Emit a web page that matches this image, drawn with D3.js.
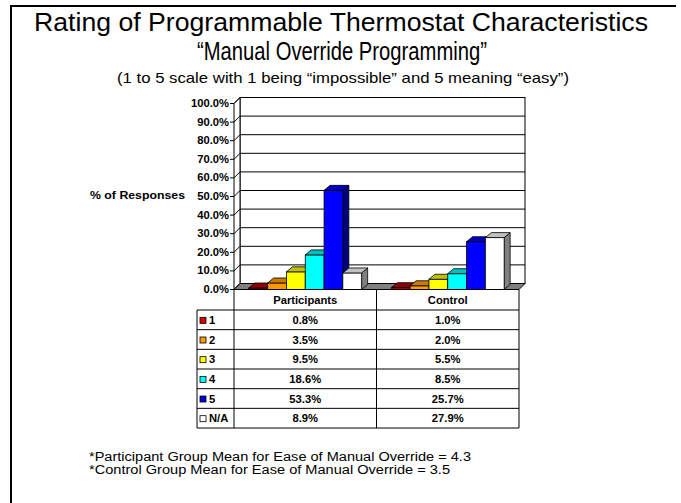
<!DOCTYPE html>
<html>
<head>
<meta charset="utf-8">
<script src="https://cdn.jsdelivr.net/npm/d3@7"></script>
<style>
  body { margin: 0; background: #fff; }
  text { font-family: "Liberation Sans", Arial, sans-serif; fill: #000; }
  .bold { font-weight: bold; }
</style>
</head>
<body>
<div id="chart"></div>
<script>
// Data
var categories = ["Participants", "Control"];
var seriesNames = ["1", "2", "3", "4", "5", "N/A"];
var participants = [0.8, 3.5, 9.5, 18.6, 53.3, 8.9];
var control = [1.0, 2.0, 5.5, 8.5, 25.7, 27.9];
var yTicks = [0, 10, 20, 30, 40, 50, 60, 70, 80, 90, 100];
var values = { Participants: participants, Control: control };

// front / top / side colours for each series
var frontColors = ["#c00000", "#ff9900", "#ffff00", "#00ffff", "#0000ff", "#ffffff"];
var topColors = ["#900000", "#cc7a00", "#c0c000", "#00c0c0", "#0000c0", "#c0c0c0"];
var sideColors = ["#600000", "#995c00", "#808000", "#008080", "#000080", "#808080"];
var legendColors = ["#dd0000", "#ff9900", "#ffff00", "#00ffff", "#0000dd", "#ffffff"];

var svgWidth = 681;
var svgHeight = 503;

// 3d depth of the plot
var DX = 6, DY = -6;
var BDX = 6, BDY = -5;

var svg = d3
  .select("#chart")
  .append("svg")
  .attr("width", svgWidth)
  .attr("height", svgHeight);

svg.append("rect")
  .attr("width", svgWidth)
  .attr("height", svgHeight)
  .attr("fill", "#fff");

// stretch a text to a given width
function fitWidth(sel, w) {
  sel.attr("textLength", w).attr("lengthAdjust", "spacingAndGlyphs");
}
function stretch(sel, k) {
  sel.each(function() {
    var len = this.getComputedTextLength();
    d3.select(this).attr("textLength", len * k).attr("lengthAdjust", "spacingAndGlyphs");
  });
}

// slide frame (top and left only)
svg.append("line")
  .attr("x1", 10).attr("x2", 676).attr("y1", 6).attr("y2", 6)
  .attr("stroke", "#000").attr("stroke-width", 2);
svg.append("line")
  .attr("x1", 11).attr("x2", 11).attr("y1", 5).attr("y2", 503)
  .attr("stroke", "#000").attr("stroke-width", 2);

// Titles
svg.append("text")
  .attr("x", 341).attr("y", 31)
  .attr("text-anchor", "middle")
  .style("font-size", "26px")
  .text("Rating of Programmable Thermostat Characteristics")
  .call(fitWidth, 614);

svg.append("text")
  .attr("x", 342).attr("y", 60)
  .attr("text-anchor", "middle")
  .style("font-size", "25px")
  .text("\u201cManual Override Programming\u201d")
  .call(fitWidth, 290);

svg.append("text")
  .attr("x", 343).attr("y", 83)
  .attr("text-anchor", "middle")
  .style("font-size", "15px")
  .text("(1 to 5 scale with 1 being \u201cimpossible\u201d and 5 meaning \u201ceasy\u201d)")
  .call(fitWidth, 452);

// Scales (front plane)
var xLeft = 234, xRight = 519;
var yScale = d3.scaleLinear().domain([0, 100]).range([289.5, 103.5]);
var x0 = d3.scaleBand().domain(categories).range([xLeft, xRight]);
var x1 = d3.scaleBand()
  .domain(seriesNames)
  .range([0, x0.bandwidth()])
  .paddingInner(0)
  .paddingOuter(0.79);

var chartGroup = svg.append("g");

// back wall
chartGroup.append("rect")
  .attr("x", xLeft + DX)
  .attr("y", yScale(100) + DY)
  .attr("width", xRight - xLeft)
  .attr("height", yScale(0) - yScale(100))
  .attr("fill", "#fff")
  .attr("stroke", "#000");

chartGroup.selectAll(".wallGrid")
  .data(yTicks)
  .enter()
  .append("line")
  .attr("x1", xLeft + DX)
  .attr("x2", xRight + DX)
  .attr("y1", d => yScale(d) + DY)
  .attr("y2", d => yScale(d) + DY)
  .attr("stroke", "#000");

// side wall
chartGroup.append("path")
  .attr("d", d3.line()([
    [xLeft, yScale(0)], [xLeft, yScale(100)],
    [xLeft + DX, yScale(100) + DY], [xLeft + DX, yScale(0) + DY]
  ]) + "Z")
  .attr("fill", "#fff")
  .attr("stroke", "#000");

chartGroup.selectAll(".sideGrid")
  .data(yTicks)
  .enter()
  .append("line")
  .attr("x1", xLeft)
  .attr("x2", xLeft + DX)
  .attr("y1", d => yScale(d))
  .attr("y2", d => yScale(d) + DY)
  .attr("stroke", "#000");

// floor
chartGroup.append("path")
  .attr("d", d3.line()([
    [xLeft, yScale(0)], [xRight, yScale(0)],
    [xRight + DX, yScale(0) + DY], [xLeft + DX, yScale(0) + DY]
  ]) + "Z")
  .attr("fill", "#808080")
  .attr("stroke", "#000");

// y axis ticks + labels
chartGroup.selectAll(".yTick")
  .data(yTicks)
  .enter()
  .append("line")
  .attr("x1", xLeft - 4)
  .attr("x2", xLeft)
  .attr("y1", d => yScale(d))
  .attr("y2", d => yScale(d))
  .attr("stroke", "#000");

chartGroup.selectAll(".yLabel")
  .data(yTicks)
  .enter()
  .append("text")
  .attr("class", "bold")
  .attr("x", xLeft - 5)
  .attr("y", d => yScale(d) + 3.5)
  .attr("text-anchor", "end")
  .style("font-size", "10px")
  .text(d => d3.format(".1f")(d) + "%")
  .call(stretch, 1.12);

svg.append("text")
  .attr("class", "bold")
  .attr("x", 185).attr("y", 199)
  .attr("text-anchor", "end")
  .style("font-size", "10px")
  .text("% of Responses")
  .call(fitWidth, 95);

// 3d bars
categories.forEach(function(cat) {
  var g = chartGroup.append("g");
  values[cat].forEach(function(v, i) {
    var xl = x0(cat) + x1(seriesNames[i]);
    var xr = xl + x1.bandwidth();
    var yt = yScale(v);
    var yb = yScale(0);
    // side face
    g.append("path")
      .attr("d", d3.line()([[xr, yb], [xr, yt], [xr + BDX, yt + BDY], [xr + BDX, yb + BDY]]) + "Z")
      .attr("fill", sideColors[i])
      .attr("stroke", "#000").attr("stroke-width", 0.8);
    // front face
    g.append("rect")
      .attr("x", xl).attr("y", yt)
      .attr("width", xr - xl).attr("height", yb - yt)
      .attr("fill", frontColors[i])
      .attr("stroke", "#000").attr("stroke-width", 0.8);
    // top face
    g.append("path")
      .attr("d", d3.line()([[xl, yt], [xr, yt], [xr + BDX, yt + BDY], [xl + BDX, yt + BDY]]) + "Z")
      .attr("fill", topColors[i])
      .attr("stroke", "#000").attr("stroke-width", 0.8);
  });
});

// Data table
var tableLeft = 197;
var tableTop = yScale(0);
var headerBottom = 310;
var rowH = 19.67;
var tableBottom = headerBottom + rowH * seriesNames.length;

var tableGroup = svg.append("g");

tableGroup.append("rect")
  .attr("x", xLeft).attr("y", tableTop)
  .attr("width", xRight - xLeft).attr("height", headerBottom - tableTop)
  .attr("fill", "#fff");
tableGroup.append("rect")
  .attr("x", tableLeft).attr("y", headerBottom)
  .attr("width", xRight - tableLeft).attr("height", tableBottom - headerBottom)
  .attr("fill", "#fff");

// horizontal lines
tableGroup.append("line")
  .attr("x1", xLeft).attr("x2", xRight)
  .attr("y1", tableTop).attr("y2", tableTop)
  .attr("stroke", "#000");
tableGroup.selectAll(".hLine")
  .data(d3.range(seriesNames.length + 1))
  .enter()
  .append("line")
  .attr("x1", tableLeft).attr("x2", xRight)
  .attr("y1", d => headerBottom + d * rowH)
  .attr("y2", d => headerBottom + d * rowH)
  .attr("stroke", "#000");

// vertical lines
tableGroup.append("line")
  .attr("x1", tableLeft).attr("x2", tableLeft)
  .attr("y1", headerBottom).attr("y2", tableBottom)
  .attr("stroke", "#000");
tableGroup.selectAll(".vLine")
  .data([xLeft, x0("Control"), xRight])
  .enter()
  .append("line")
  .attr("x1", d => d).attr("x2", d => d)
  .attr("y1", tableTop).attr("y2", tableBottom)
  .attr("stroke", "#000");

// header
tableGroup.selectAll(".colHead")
  .data(categories)
  .enter()
  .append("text")
  .attr("class", "bold")
  .attr("x", d => x0(d) + x0.bandwidth() / 2)
  .attr("y", (tableTop + headerBottom) / 2 + 4)
  .attr("text-anchor", "middle")
  .style("font-size", "10px")
  .text(d => d)
  .call(stretch, 1.12);

// legend column
seriesNames.forEach(function(name, i) {
  var cy = headerBottom + rowH * i + rowH / 2;
  tableGroup.append("rect")
    .attr("x", tableLeft + 3).attr("y", cy - 2.5)
    .attr("width", 6).attr("height", 6)
    .attr("fill", legendColors[i])
    .attr("stroke", "#000").attr("stroke-width", 0.8);
  tableGroup.append("text")
    .attr("class", "bold")
    .attr("x", tableLeft + 12).attr("y", cy + 4)
    .style("font-size", "10px")
    .text(name)
    .call(stretch, 1.12);

  categories.forEach(function(cat) {
    tableGroup.append("text")
      .attr("class", "bold")
      .attr("x", x0(cat) + x0.bandwidth() / 2)
      .attr("y", cy + 4)
      .attr("text-anchor", "middle")
      .style("font-size", "10px")
      .text(d3.format(".1f")(values[cat][i]) + "%")
      .call(stretch, 1.12);
  });
});

// footnotes
svg.append("text")
  .attr("x", 89).attr("y", 461)
  .style("font-size", "12px")
  .text("*Participant Group Mean for Ease of Manual Override = 4.3")
  .call(fitWidth, 382);
svg.append("text")
  .attr("x", 89).attr("y", 474)
  .style("font-size", "12px")
  .text("*Control Group Mean for Ease of Manual Override = 3.5")
  .call(fitWidth, 361);
</script>
</body>
</html>
